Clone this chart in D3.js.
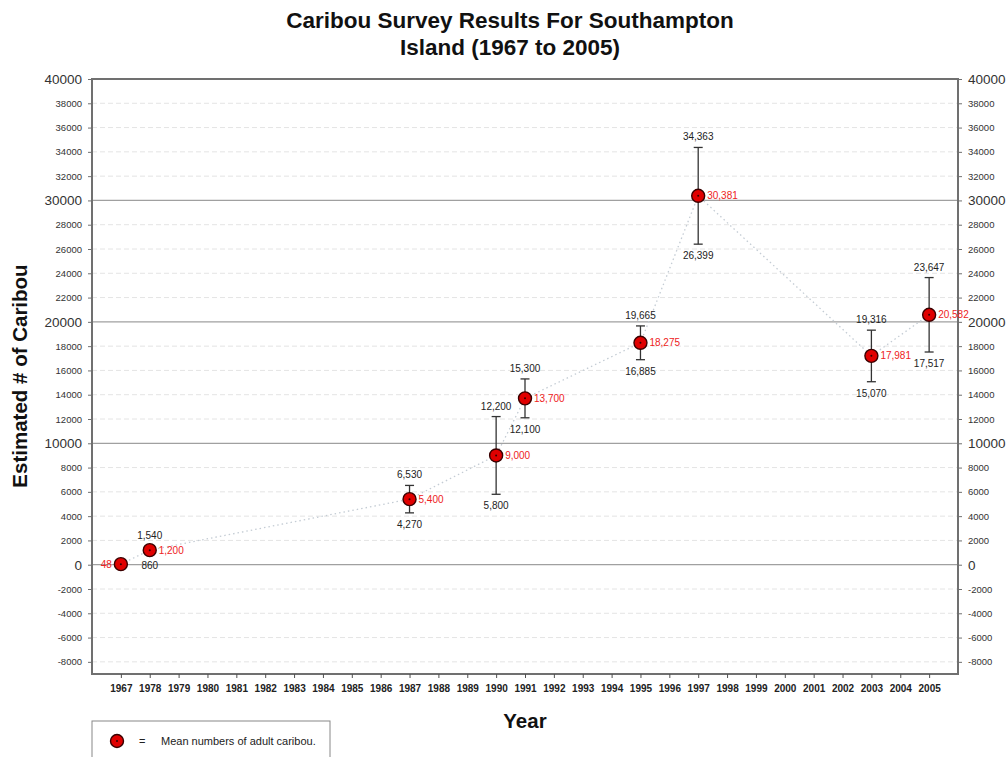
<!DOCTYPE html>
<html><head><meta charset="utf-8">
<script src="https://cdn.jsdelivr.net/npm/d3@7"></script>
<style>body{margin:0;background:#fff;}svg{font-family:Arial,"Liberation Sans",sans-serif;}</style>
</head><body><svg id="c" width="1006" height="757"></svg>
<script>
const categories=["1967","1978","1979","1980","1981","1982","1983","1984","1985","1986","1987","1988","1989","1990","1991","1992","1993","1994","1995","1996","1997","1998","1999","2000","2001","2002","2003","2004","2005"];
const surveyYears=["1967","1978","1987","1990","1991","1995","1997","2003","2005"];
// labelled means (as printed on the chart)
const meanValues=[48,1200,5400,9000,13700,18275,30381,17981,20582];
// where the marker sits in the picture (2003 marker is drawn lower than its label)
const plottedMeans=[48,1200,5400,9000,13700,18275,30381,17200,20582];
const lowerValues=[null,860,4270,5800,12100,16885,26399,15070,17517];
const upperValues=[null,1540,6530,12200,15300,19665,34363,19316,23647];
const yTicks=d3.range(-8000,40001,2000);

const svg=d3.select("#c");
const L=92,R=958,T=79,B=674;
const x=d3.scalePoint().domain(categories).range([L,R]).padding(1);
const y=d3.scaleLinear().domain([-9000,40000]).range([B,T]);
const fmt=d3.format(",");
const tf=d=>String(d);

// gridlines
svg.append("g").selectAll("line").data(yTicks.filter(v=>v!==40000)).join("line")
  .attr("x1",L).attr("x2",R).attr("y1",d=>y(d)).attr("y2",d=>y(d))
  .attr("stroke",d=>d%10000===0?"#a0a0a0":"#e4e4e4")
  .attr("stroke-width",d=>d%10000===0?1.2:1)
  .attr("stroke-dasharray",d=>d%10000===0?null:"5,3");

// frame
svg.append("rect").attr("x",L).attr("y",T).attr("width",R-L).attr("height",B-T)
  .attr("fill","none").attr("stroke","#707070").attr("stroke-width",2);

// left axis
const yl=svg.append("g").attr("transform",`translate(${L},0)`)
  .call(d3.axisLeft(y).tickValues(yTicks).tickSize(4).tickPadding(6).tickFormat(tf));
yl.select(".domain").remove();
yl.selectAll("line").attr("stroke","#707070");
yl.selectAll("text").attr("fill","#333")
  .attr("font-size",d=>d%10000===0?"13.5px":"9.5px");

const yr=svg.append("g").attr("transform",`translate(${R},0)`)
  .call(d3.axisRight(y).tickValues(yTicks).tickSize(4).tickPadding(6).tickFormat(tf));
yr.select(".domain").remove();
yr.selectAll("line").attr("stroke","#707070");
yr.selectAll("text").attr("fill","#333")
  .attr("font-size",d=>d%10000===0?"13.5px":"9.5px");

// x axis
const xa=svg.append("g").attr("transform",`translate(0,${B})`)
  .call(d3.axisBottom(x).tickSize(4).tickPadding(7));
xa.select(".domain").remove();
xa.selectAll("line").attr("stroke","#505050");
xa.selectAll("text").attr("fill","#222").attr("font-weight","bold").attr("font-size","10px");

// data
const pts=surveyYears.map((c,i)=>({c,m:meanValues[i],p:plottedMeans[i],lo:lowerValues[i],hi:upperValues[i]}));

// dotted connecting line
svg.append("path").datum(pts)
  .attr("d",d3.line().x(d=>x(d.c)).y(d=>y(d.p)))
  .attr("fill","none").attr("stroke","#c4ccd4").attr("stroke-width",1.3).attr("stroke-dasharray","1.5,3");

// error bars
const eb=pts.filter(d=>d.lo!==null);
const g=svg.append("g");
g.selectAll(".v").data(eb).join("line")
  .attr("x1",d=>x(d.c)).attr("x2",d=>x(d.c)).attr("y1",d=>y(d.lo)).attr("y2",d=>y(d.hi))
  .attr("stroke","#333").attr("stroke-width",1.3);
["lo","hi"].forEach(k=>{
  g.selectAll(".c"+k).data(eb).join("line")
    .attr("x1",d=>x(d.c)-4.5).attr("x2",d=>x(d.c)+4.5).attr("y1",d=>y(d[k])).attr("y2",d=>y(d[k]))
    .attr("stroke","#333").attr("stroke-width",1.3);
});
// markers
g.selectAll(".m").data(pts).join("circle")
  .attr("cx",d=>x(d.c)).attr("cy",d=>y(d.p)).attr("r",6.5)
  .attr("fill","#e00000").attr("stroke","#3a0000").attr("stroke-width",1.4);
g.selectAll(".d").data(pts).join("circle")
  .attr("cx",d=>x(d.c)).attr("cy",d=>y(d.p)).attr("r",1)
  .attr("fill","#300");

// labels
g.selectAll(".hl").data(eb).join("text")
  .attr("x",d=>x(d.c)).attr("y",d=>y(d.hi)-7).attr("text-anchor","middle")
  .attr("font-size","10px").attr("fill","#222").text(d=>fmt(d.hi));
g.selectAll(".ll").data(eb).join("text")
  .attr("x",d=>x(d.c)).attr("y",d=>y(d.lo)+15).attr("text-anchor","middle")
  .attr("font-size","10px").attr("fill","#222").text(d=>fmt(d.lo));
g.selectAll(".ml").data(pts).join("text")
  .attr("x",d=>d.lo===null?x(d.c)-9:x(d.c)+9).attr("y",d=>y(d.p)+3.5)
  .attr("text-anchor",d=>d.lo===null?"end":"start")
  .attr("font-size","10px").attr("fill","#ee2222").text(d=>fmt(d.m));

// titles
svg.append("text").attr("x",510).attr("y",28).attr("text-anchor","middle")
  .attr("font-size","22.5px").attr("font-weight","bold").attr("fill","#111").text("Caribou Survey Results For Southampton");
svg.append("text").attr("x",510).attr("y",55).attr("text-anchor","middle")
  .attr("font-size","22.5px").attr("font-weight","bold").attr("fill","#111").text("Island (1967 to 2005)");
svg.append("text").attr("x",525).attr("y",728).attr("text-anchor","middle")
  .attr("font-size","20.5px").attr("font-weight","bold").attr("fill","#111").text("Year");
svg.append("text").attr("transform","translate(27,376) rotate(-90)").attr("text-anchor","middle")
  .attr("font-size","20.5px").attr("font-weight","bold").attr("fill","#111").text("Estimated # of Caribou");

// legend
svg.append("rect").attr("x",92).attr("y",721).attr("width",238).attr("height",50)
  .attr("fill","#fff").attr("stroke","#888").attr("stroke-width",1);
svg.append("circle").attr("cx",117).attr("cy",741).attr("r",6.5).attr("fill","#e00000").attr("stroke","#3a0000").attr("stroke-width",1.4);
svg.append("circle").attr("cx",117).attr("cy",741).attr("r",1).attr("fill","#300");
svg.append("text").attr("x",139).attr("y",745).attr("font-size","11px").attr("fill","#222").text("=");
svg.append("text").attr("x",161).attr("y",745).attr("font-size","11px").attr("fill","#222").text("Mean numbers of adult caribou.");
</script></body></html>
